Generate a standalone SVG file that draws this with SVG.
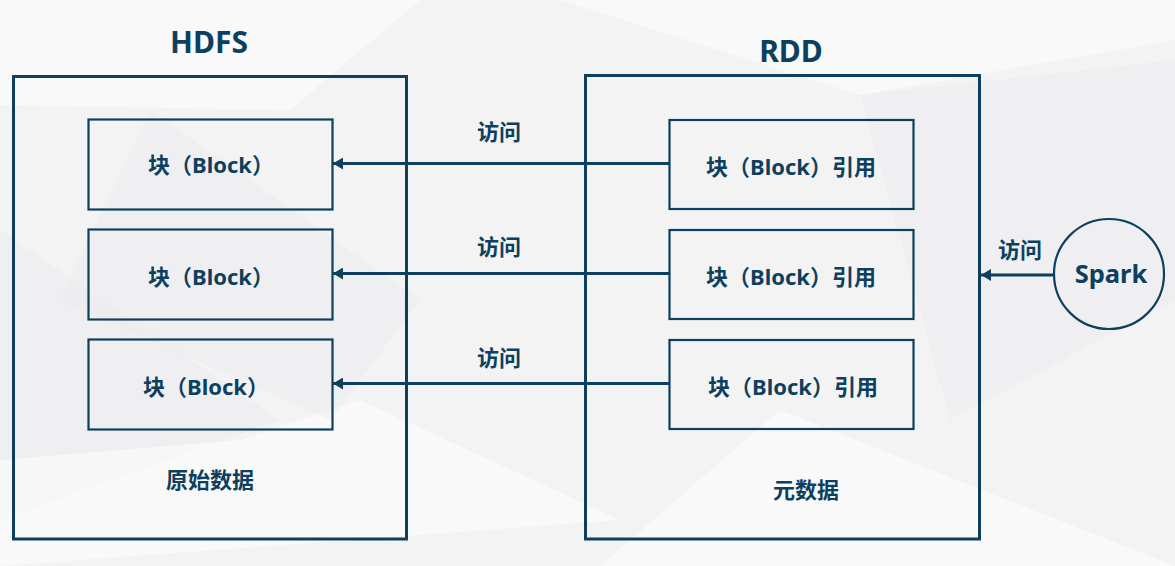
<svg xmlns="http://www.w3.org/2000/svg" width="1175" height="566" viewBox="0 0 1175 566">
<defs>
<style>
.box{fill:none;stroke:#0d405e;stroke-width:3}
.blk{fill:none;stroke:#0d405e;stroke-width:2.2}
.ln{stroke:#0d405e;stroke-width:3;fill:none}
.t{font-family:"Noto Sans","Noto Sans CJK SC",sans-serif;font-weight:bold;fill:#0d405e;text-anchor:middle}
.title{font-size:30px}
.lab{font-size:22px}
.sm{font-size:22px}
.bg1{fill:#ffffff;opacity:0.5}
.bg2{fill:#ebebed;opacity:0.45}
</style>
<marker id="ah" viewBox="0 0 10 12" refX="10" refY="6" markerWidth="10" markerHeight="12" markerUnits="userSpaceOnUse" orient="auto">
<path d="M0,0 L10,6 L0,12 Z" fill="#0d405e"/>
</marker>
</defs>
<g id="background">
<rect width="1175" height="566" fill="#f3f3f4"/>
<polygon class="bg1" points="0,0 420,0 290,110 0,105"/>
<polygon class="bg1" points="420,0 1175,0 1175,40 860,95 560,0"/>
<polygon class="bg2" points="0,230 280,420 0,520"/>
<polygon class="bg1" points="0,460 240,440 360,400 620,520 0,566"/>
<polygon class="bg2" points="860,95 1175,60 1175,300 950,420"/>
<polygon class="bg1" points="780,410 1175,566 600,566"/>
<polygon class="bg2" points="150,110 420,300 330,420 60,300"/>
</g>
<g id="hdfs">
<text class="t title" x="209" y="53">HDFS</text>
<rect class="box" x="13.5" y="76.5" width="393" height="462.5"/>
<text class="t sm" x="210" y="488">原始数据</text>
</g>
<g id="rdd">
<text class="t title" x="791" y="62">RDD</text>
<rect class="box" x="585.5" y="75.5" width="394" height="463.5"/>
<text class="t sm" x="806" y="498">元数据</text>
</g>
<g id="hdfs-block1">
<rect class="blk" x="88.5" y="119.5" width="244" height="90"/>
<text class="t lab" x="211" y="173">块（Block）</text>
</g>
<g id="hdfs-block2">
<rect class="blk" x="88.5" y="229.5" width="244" height="90"/>
<text class="t lab" x="211" y="285">块（Block）</text>
</g>
<g id="hdfs-block3">
<rect class="blk" x="88.5" y="339.5" width="244" height="90"/>
<text class="t lab" x="206" y="395">块（Block）</text>
</g>
<g id="rdd-ref1">
<rect class="blk" x="669.5" y="120" width="244" height="89"/>
<text class="t lab" x="791" y="175">块（Block）引用</text>
</g>
<g id="rdd-ref2">
<rect class="blk" x="669.5" y="230" width="244" height="89"/>
<text class="t lab" x="791" y="285">块（Block）引用</text>
</g>
<g id="rdd-ref3">
<rect class="blk" x="669.5" y="340" width="244" height="89"/>
<text class="t lab" x="793" y="395">块（Block）引用</text>
</g>
<g id="spark">
<circle cx="1109" cy="274" r="55" fill="none" stroke="#0d405e" stroke-width="2.2"/>
<text class="t" x="1111" y="283" font-size="25.5">Spark</text>
</g>
<g id="connectors">
<line class="ln" x1="669" y1="163.5" x2="333" y2="163.5" marker-end="url(#ah)"/>
<line class="ln" x1="669" y1="273.5" x2="333" y2="273.5" marker-end="url(#ah)"/>
<line class="ln" x1="669" y1="383.5" x2="333" y2="383.5" marker-end="url(#ah)"/>
<line class="ln" x1="1054" y1="275" x2="981" y2="275" marker-end="url(#ah)"/>
<text class="t sm" x="499" y="140">访问</text>
<text class="t sm" x="499" y="255">访问</text>
<text class="t sm" x="499" y="366">访问</text>
<text class="t sm" x="1020" y="258">访问</text>
</g>
</svg>
